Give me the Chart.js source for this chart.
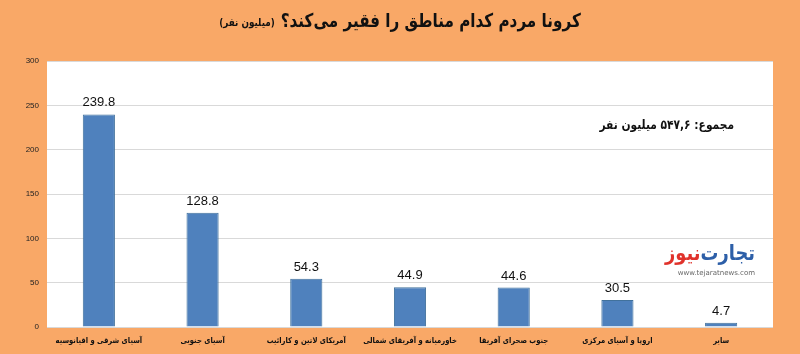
<!DOCTYPE html>
<html>
<head>
<meta charset="utf-8">
<script src="https://cdn.jsdelivr.net/npm/chart.js@4.4.1/dist/chart.umd.min.js"></script>
<style>
  html, body { margin: 0; padding: 0; background: #F9A867; }
  #wrap { width: 800px; height: 354px; position: relative; }
</style>
</head>
<body>
<div id="wrap"><canvas id="chart" width="800" height="354"></canvas></div>
<script>
// Chart data
const regions = ['آسیای شرقی و اقیانوسیه', 'آسیای جنوبی', 'آمریکای لاتین و کارائیب', 'خاورمیانه و آفریقای شمالی', 'جنوب صحرای آفریقا', 'اروپا و آسیای مرکزی', 'سایر'];
const poorMillions = [239.8, 128.8, 54.3, 44.9, 44.6, 30.5, 4.7];
const yTicks = [0, 50, 100, 150, 200, 250, 300];

const titleMain = 'کرونا مردم کدام مناطق را فقیر می‌کند؟';
const titleUnit = '(میلیون نفر)';
const totalNote = 'مجموع: ۵۴۷,۶ میلیون نفر';

const arabicFont = '"DejaVu Sans", "Noto Sans", sans-serif';

// draw rtl text squeezed horizontally (DejaVu is wider than the original font)
function drawText(ctx, text, x, y, font, squeeze, align, color) {
  ctx.save();
  ctx.font = font;
  ctx.fillStyle = color;
  ctx.direction = 'rtl';
  ctx.textAlign = align;
  ctx.textBaseline = 'middle';
  ctx.translate(x, y);
  ctx.scale(squeeze, 1);
  ctx.fillText(text, 0, 0);
  const w = ctx.measureText(text).width * squeeze;
  ctx.restore();
  return w;
}

// White plot background
const plotBackground = {
  id: 'plotBackground',
  beforeDraw(chart) {
    const { ctx, chartArea } = chart;
    ctx.save();
    ctx.fillStyle = '#ffffff';
    ctx.fillRect(chartArea.left, chartArea.top, chartArea.right - chartArea.left, chartArea.bottom - chartArea.top);
    ctx.restore();
  }
};

// Values above bars, category labels, title, note and logo
const extras = {
  id: 'extras',
  afterDatasetsDraw(chart) {
    const ctx = chart.ctx;
    ctx.save();
    ctx.fillStyle = '#111';
    ctx.font = '13px "Liberation Sans", Arial, sans-serif';
    ctx.textAlign = 'center';
    ctx.textBaseline = 'bottom';
    chart.getDatasetMeta(0).data.forEach((bar, i) => {
      ctx.fillText(poorMillions[i].toFixed(1), bar.x, bar.y - 5);
    });
    ctx.restore();

    // category labels
    const xScale = chart.scales.x;
    regions.forEach((name, i) => {
      drawText(ctx, name, xScale.getPixelForTick(i), 341, 'bold 8px ' + arabicFont, 0.85, 'center', '#111');
    });

    // title
    ctx.save();
    ctx.font = 'bold 19px ' + arabicFont;
    const mainW = ctx.measureText(titleMain).width * 0.8;
    ctx.font = 'bold 11px ' + arabicFont;
    const unitW = ctx.measureText(titleUnit).width * 0.8;
    ctx.restore();
    const right = 400 + (mainW + 6 + unitW) / 2;
    drawText(ctx, titleMain, right, 22, 'bold 19px ' + arabicFont, 0.8, 'right', '#111');
    drawText(ctx, titleUnit, right - mainW - 6, 23, 'bold 11px ' + arabicFont, 0.8, 'right', '#111');

    // total note
    drawText(ctx, totalNote, 734, 126, 'bold 13px ' + arabicFont, 0.82, 'right', '#111');

    // logo
    const w1 = drawText(ctx, 'تجارت', 755, 255, 'bold 21px ' + arabicFont, 0.85, 'right', '#2D5FA8');
    drawText(ctx, 'نیوز', 755 - w1, 255, 'bold 21px ' + arabicFont, 0.85, 'right', '#E0322B');
    ctx.save();
    ctx.direction = 'ltr';
    ctx.textAlign = 'right';
    ctx.textBaseline = 'middle';
    ctx.fillStyle = '#666';
    ctx.font = '7px "DejaVu Sans", sans-serif';
    ctx.fillText('www.tejaratnews.com', 755, 273);
    ctx.restore();
  }
};

new Chart(document.getElementById('chart').getContext('2d'), {
  type: 'bar',
  data: {
    labels: regions,
    datasets: [{
      data: poorMillions,
      backgroundColor: '#4F81BD',
      borderColor: '#41719C',
      borderWidth: 1,
      categoryPercentage: 1,
      barPercentage: 0.31
    }]
  },
  options: {
    responsive: false,
    animation: false,
    layout: { padding: { top: 61, right: 27, left: 0, bottom: 0 } },
    plugins: {
      legend: { display: false },
      tooltip: { enabled: false }
    },
    scales: {
      x: {
        grid: { display: false },
        border: { display: false },
        afterFit(axis) { axis.height = 27; },
        ticks: { display: false }
      },
      y: {
        min: 0,
        max: 300,
        afterBuildTicks(axis) { axis.ticks = yTicks.map(v => ({ value: v })); },
        afterFit(axis) { axis.width = 47; },
        grid: { color: '#D9D9D9', lineWidth: 1, drawTicks: false },
        border: { display: false },
        ticks: {
          color: '#222',
          font: { family: '"Liberation Sans", Arial, sans-serif', size: 8 },
          padding: 8
        }
      }
    }
  },
  plugins: [plotBackground, extras]
});
</script>
</body>
</html>
